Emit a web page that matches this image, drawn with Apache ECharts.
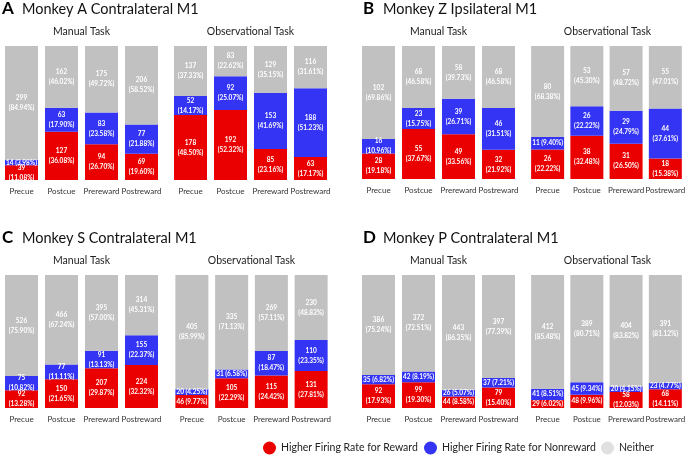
<!DOCTYPE html>
<html>
<head>
<meta charset="utf-8">
<script src="https://cdn.jsdelivr.net/npm/echarts@6/dist/echarts.min.js"></script>
<style>html,body{margin:0;padding:0;background:#fff}#c{width:688px;height:456px}</style>
</head>
<body>
<div id="c"></div>
<script>
const categories = ['Precue', 'Postcue', 'Prereward', 'Postreward'];
const seriesNames = ['Higher Firing Rate for Reward', 'Higher Firing Rate for Nonreward', 'Neither'];
const taskTitles = ['Manual Task', 'Observational Task'];
const panelLetters = ['A', 'B', 'C', 'D'];
const panelTitles = ['Monkey A Contralateral M1', 'Monkey Z Ipsilateral M1', 'Monkey S Contralateral M1', 'Monkey P Contralateral M1'];

// counts: [reward, nonreward, neither]; pct: same order
const aManualCounts = [[39, 127, 94, 69], [14, 63, 83, 77], [299, 162, 175, 206]];
const aManualPct = [[11.08, 36.08, 26.70, 19.60], [3.98, 17.90, 23.58, 21.88], [84.94, 46.02, 49.72, 58.52]];
const aObsCounts = [[178, 192, 85, 63], [52, 92, 153, 188], [137, 83, 129, 116]];
const aObsPct = [[48.50, 52.32, 23.16, 17.17], [14.17, 25.07, 41.69, 51.23], [37.33, 22.62, 35.15, 31.61]];
const bManualCounts = [[28, 55, 49, 32], [16, 23, 39, 46], [102, 68, 58, 68]];
const bManualPct = [[19.18, 37.67, 33.56, 21.92], [10.96, 15.75, 26.71, 31.51], [69.86, 46.58, 39.73, 46.58]];
const bObsCounts = [[26, 38, 31, 18], [11, 26, 29, 44], [80, 53, 57, 55]];
const bObsPct = [[22.22, 32.48, 26.50, 15.38], [9.40, 22.22, 24.79, 37.61], [68.38, 45.30, 48.72, 47.01]];
const cManualCounts = [[92, 150, 207, 224], [75, 77, 91, 155], [526, 466, 395, 314]];
const cManualPct = [[13.28, 21.65, 29.87, 32.32], [10.82, 11.11, 13.13, 22.37], [75.90, 67.24, 57.00, 45.31]];
const cObsCounts = [[46, 105, 115, 131], [20, 31, 87, 110], [405, 335, 269, 230]];
const cObsPct = [[9.77, 22.29, 24.42, 27.81], [4.25, 6.58, 18.47, 23.35], [85.99, 71.13, 57.11, 48.83]];
const dManualCounts = [[92, 99, 44, 79], [35, 42, 26, 37], [386, 372, 443, 397]];
const dManualPct = [[17.93, 19.30, 8.58, 15.40], [6.82, 8.19, 5.07, 7.21], [75.24, 72.51, 86.35, 77.39]];
const dObsCounts = [[29, 48, 58, 68], [41, 45, 20, 23], [412, 389, 404, 391]];
const dObsPct = [[6.02, 9.96, 12.03, 14.11], [8.51, 9.34, 4.15, 4.77], [85.48, 80.71, 83.82, 81.12]];

const allCounts = [aManualCounts, aObsCounts, bManualCounts, bObsCounts, cManualCounts, cObsCounts, dManualCounts, dObsCounts];
const allPct = [aManualPct, aObsPct, bManualPct, bObsPct, cManualPct, cObsPct, dManualPct, dObsPct];

const colors = ['#ea0000', '#3434f4', '#c1c1c1'];
const FONT = 'Lato, "Open Sans", sans-serif';

const gridBoxes = [
  {left: 1.5, top: 46, width: 160, height: 134},
  {left: 170.5, top: 46, width: 160, height: 134},
  {left: 358.5, top: 46, width: 160, height: 133},
  {left: 528, top: 46, width: 159, height: 133},
  {left: 1.5, top: 275, width: 160, height: 133},
  {left: 172, top: 275, width: 159, height: 133},
  {left: 358.5, top: 275, width: 160, height: 133},
  {left: 528, top: 275, width: 159, height: 133}
];
const panelPos = [[2, 9], [363, 9], [2, 238], [363, 238]];
const legendLefts = [263, 424, 601];

const grids = [], xAxes = [], yAxes = [], series = [], graphics = [];
gridBoxes.forEach((b, g) => {
  grids.push(Object.assign({containLabel: false}, b));
  xAxes.push({
    type: 'category', gridIndex: g, data: categories,
    axisLine: {show: false}, axisTick: {show: false},
    axisLabel: {fontSize: 8, color: '#333', margin: 7, fontFamily: FONT, interval: 0}
  });
  yAxes.push({type: 'value', gridIndex: g, min: 0, max: 100, show: false});
  for (let k = 0; k < 3; k++) {
    series.push({
      type: 'bar', name: seriesNames[k], xAxisIndex: g, yAxisIndex: g, stack: 's' + g,
      barWidth: 33, data: allPct[g][k],
      itemStyle: {color: colors[k]},
      emphasis: {disabled: true},
      label: {
        show: true, position: 'inside', color: '#fff', fontSize: 6.5, fontWeight: 'bold',
        lineHeight: 10, fontFamily: FONT,
        formatter: (p) => {
          const c = allCounts[g][k][p.dataIndex];
          const v = allPct[g][k][p.dataIndex];
          const s = v.toFixed(2) + '%';
          return v < 10 ? c + ' (' + s + ')' : c + '\n(' + s + ')';
        }
      }
    });
  }
  graphics.push({
    type: 'text', x: b.left + b.width / 2, y: b.top - 14,
    style: {text: taskTitles[g % 2], font: '10.5px ' + FONT, fill: '#222', align: 'center', verticalAlign: 'middle'}
  });
});
panelPos.forEach((p, i) => {
  graphics.push({type: 'text', x: p[0], y: p[1],
    style: {text: panelLetters[i], font: 'bold 17px ' + FONT, fill: '#000', align: 'left', verticalAlign: 'middle'}});
  graphics.push({type: 'text', x: p[0] + 20, y: p[1],
    style: {text: panelTitles[i], font: '14.5px ' + FONT, fill: '#111', align: 'left', verticalAlign: 'middle'}});
});

const legends = seriesNames.map((n, i) => ({
  left: legendLefts[i], top: 441.5, padding: 0, itemWidth: 13, itemHeight: 13, icon: 'circle',
  selectedMode: false, itemGap: 6,
  textStyle: {fontSize: 10.5, color: '#222', fontFamily: FONT},
  data: [i === 2 ? {name: n, itemStyle: {color: '#e0e0e0'}} : {name: n}]
}));

const chart = echarts.init(document.getElementById('c'));
chart.setOption({
  animation: false,
  grid: grids, xAxis: xAxes, yAxis: yAxes, series: series,
  graphic: graphics,
  legend: legends
});
</script>
</body>
</html>
